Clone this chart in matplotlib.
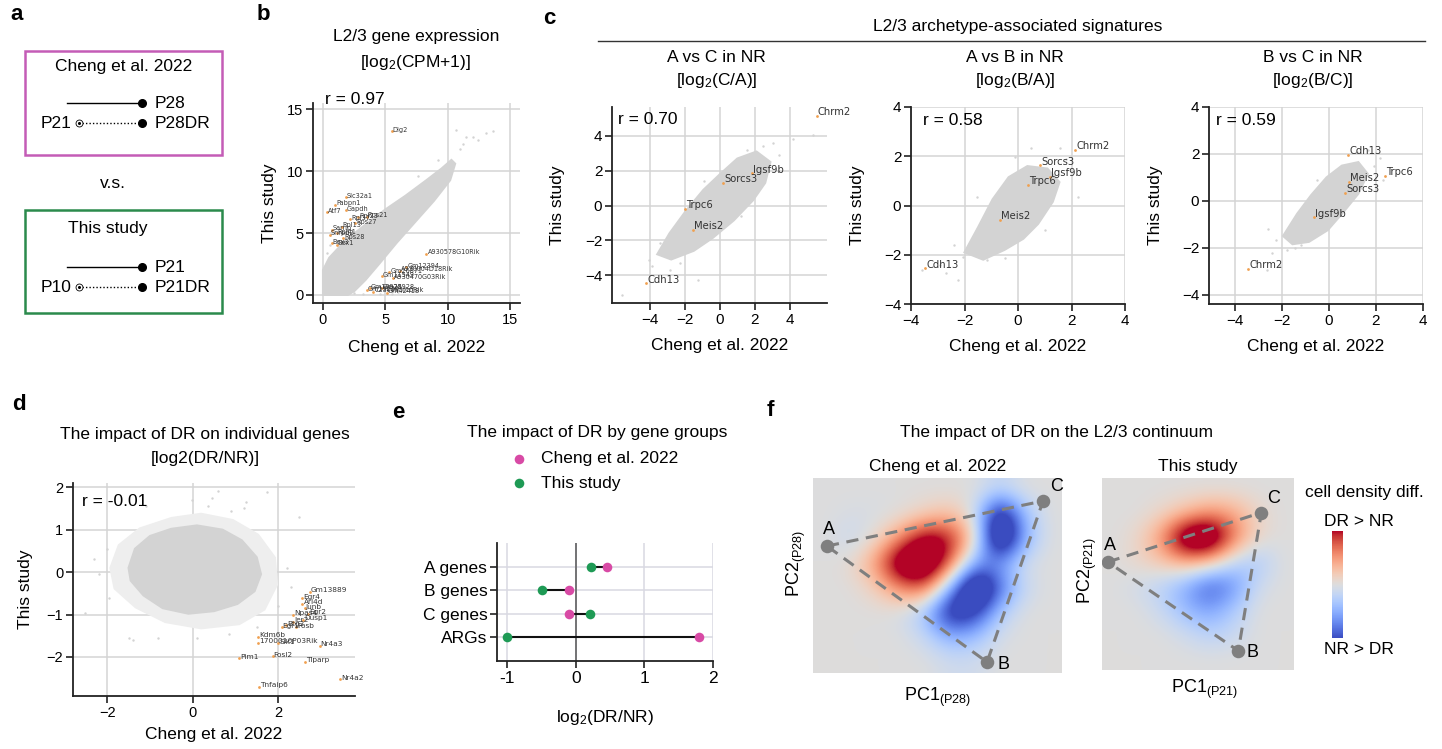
import numpy as np
import matplotlib.pyplot as plt
from matplotlib.patches import Rectangle

plt.rcParams['font.family'] = ['Liberation Sans', 'DejaVu Sans']
plt.rcParams['mathtext.default'] = 'regular'

W, H = 1442, 749

# ---------------- data ----------------
# panel b: L2/3 gene expression, log2(CPM+1)
b_cloud_x = [0.0, 0.0, 0.5, 1.8, 3.3, 5.0, 6.6, 8.3, 9.5, 10.3, 10.6, 10.2, 8.9, 7.4, 5.9, 4.5, 3.4, 2.5, 2.0]
b_cloud_y = [0.0, 2.0, 3.0, 4.4, 5.6, 6.9, 8.0, 9.27, 10.2, 10.9, 10.6, 9.27, 7.6, 5.9, 4.2, 2.5, 1.2, 0.3, 0.0]
b_out_x = [11.5, 12.05, 10.7, 11.25, 12.46, 13.1, 13.66, 2.5, 3.2, 4.6, 5.5, 6.0, 0.3, 0.6, 7.6, 9.2, 11.0]
b_out_y = [12.77, 12.77, 13.3, 12.2, 12.5, 13.05, 13.2, 0.15, 0.1, 0.05, 0.1, 0.2, 3.4, 4.0, 9.6, 10.9, 11.8]
b_genes = ['Dlg2', 'Slc32a1', 'Pabpn1', 'Atf7', 'Gapdh', 'Rpl37', 'Rps27', 'Rpl23', 'Rps21',
           'Rpl13', 'Sarnp', 'Snrpd2', 'Rpl41', 'Rps28', 'Bex3', 'Bex1',
           'A930578G10Rik', 'Gm12394', 'A930004D18Rik', 'Gm26871', 'Gm11549', 'A930470G03Rik',
           'Gm15220', 'C230035I16Rik', 'Gm42418', 'Gm28928', 'Gm10925']
b_gx = [5.5, 1.82, 0.96, 0.29, 1.84, 2.17, 2.57, 2.83, 3.5, 1.5, 0.7, 0.56, 1.1, 1.63, 0.7, 1.1,
        8.3, 6.66, 6.2, 5.3, 4.7, 5.64, 3.5, 4.04, 5.1, 4.7, 3.77]
b_gy = [13.2, 7.88, 7.26, 6.67, 6.85, 6.1, 5.78, 6.26, 6.3, 5.5, 5.25, 4.84, 4.97, 4.57, 4.17, 4.03,
        3.3, 2.23, 1.97, 1.83, 1.49, 1.34, 0.39, 0.26, 0.18, 0.53, 0.53]

# panel c: archetype-associated signatures
c_titles = ['A vs C in NR\n[log$_2$(C/A)]', 'A vs B in NR\n[log$_2$(B/A)]', 'B vs C in NR\n[log$_2$(B/C)]']
c_r = ['r = 0.70', 'r = 0.58', 'r = 0.59']
c_cloud_x = [
    [-3.6, -2.9, -1.95, -0.95, 0.0, 1.0, 2.1, 2.9, 2.6, 1.9, 0.8, -0.4, -1.5, -2.8],
    [-2.0, -1.5, -0.95, -0.35, 0.35, 1.1, 1.55, 1.3, 0.75, 0.2, -0.5, -1.3],
    [-1.95, -1.35, -0.75, -0.1, 0.55, 1.25, 1.65, 1.25, 0.6, -0.05, -0.85, -1.55],
]
c_cloud_y = [
    [-2.8, -1.6, -0.3, 0.9, 1.8, 2.7, 3.1, 2.5, 1.3, 0.3, -0.85, -1.85, -2.6, -3.1],
    [-1.9, -0.9, 0.25, 1.15, 1.6, 1.5, 0.95, 0.15, -0.75, -1.35, -1.8, -2.2],
    [-1.5, -0.55, 0.25, 1.0, 1.5, 1.65, 1.15, 0.3, -0.5, -1.25, -1.75, -1.85],
]
c_out_x = [
    [-5.65, -4.06, -3.45, -2.87, -1.24, 4.21, 5.36, 3.05, 1.53, -3.9, -2.3, 3.4, -3.2, 2.5, -0.9, 1.2],
    [-3.6, -2.69, -2.24, -2.05, -1.17, -0.92, -0.5, 2.26, 1.57, 0.5, -1.55, -2.9, -2.4, 1.8, -0.1, 1.0],
    [-2.65, -2.44, -2.23, -1.8, -1.45, 2.17, 2.31, -2.1, 1.67, -3.1, -1.2, 1.9, -2.6, 1.2, -0.5, 2.0],
]
c_out_y = [
    [-5.14, -3.13, -2.17, -3.72, -4.25, 3.8, 4.08, 3.57, 3.19, -3.5, -3.3, 2.9, -2.6, 3.4, 1.4, -0.6],
    [-2.62, -2.76, -3.03, -2.08, -2.2, -1.26, -2.15, 0.36, 2.32, 2.32, 0.36, -2.4, -1.6, 1.9, 1.95, -1.0],
    [-2.94, -2.23, -1.66, -2.09, -2.02, 1.81, 0.89, -2.8, 2.17, -2.6, -1.9, 1.5, -1.2, 2.1, 0.9, 0.4],
]
c_genes = [['Chrm2', 'Igsf9b', 'Sorcs3', 'Trpc6', 'Meis2', 'Cdh13'],
           ['Chrm2', 'Sorcs3', 'Igsf9b', 'Trpc6', 'Meis2', 'Cdh13'],
           ['Cdh13', 'Trpc6', 'Meis2', 'Sorcs3', 'Igsf9b', 'Chrm2']]
c_gx = [[5.56, 1.82, 0.19, -2.0, -1.53, -4.25],
        [2.13, 0.82, 1.2, 0.39, -0.67, -3.48],
        [0.82, 2.38, 0.86, 0.68, -0.63, -3.43]]
c_gy = [[5.14, 1.85, 1.3, -0.2, -1.4, -4.47],
        [2.26, 1.64, 1.17, 0.83, -0.59, -2.55],
        [1.96, 1.07, 0.82, 0.33, -0.71, -2.91]]

# panel d: impact of DR on individual genes
d_cloud_x = [-1.5, -1.35, -1.0, -0.5, 0.1, 0.7, 1.15, 1.5, 1.6, 1.45, 1.05, 0.5, -0.1, -0.7, -1.15, -1.45]
d_cloud_y = [0.1, 0.55, 0.85, 1.02, 1.1, 1.0, 0.75, 0.35, -0.05, -0.45, -0.75, -0.92, -0.98, -0.85, -0.55, -0.2]
d_halo_x = [-1.95, -1.75, -1.25, -0.5, 0.2, 0.95, 1.55, 1.95, 2.0, 1.7, 1.1, 0.2, -0.65, -1.35, -1.85]
d_halo_y = [0.1, 0.65, 1.05, 1.3, 1.4, 1.25, 0.9, 0.35, -0.3, -0.9, -1.25, -1.35, -1.2, -0.85, -0.4]
d_out_x = [-2.53, -2.2, -1.5, -1.4, -1.1, 0.35, 0.45, 0.6, 1.25, 1.73, 2.5, 1.2, 0.9, 1.5, 1.9,
           -0.8, -2.0, 2.2, 2.0, 0.1, -0.02, -1.95, -2.3, 0.85, 2.3]
d_out_y = [-0.97, -0.05, -1.55, -1.6, 1.55, 1.55, 1.75, 1.9, 1.65, 1.89, 1.3, 1.5, 1.45, -1.3, -1.5,
           -1.55, 0.55, 0.1, -0.8, -1.55, 1.69, -0.6, 0.3, -1.45, -0.35]
d_genes = ['Gm13889', 'Egr4', 'Arl4d', 'Junb', 'Npas4', 'Egr2', 'Dusp1', 'Ier2', 'Btg2', 'Egr1', 'Fosb',
           'Kdm6b', '1700016P03Rik', 'Sik1', 'Nr4a3', 'Pim1', 'Fosl2', 'Tiparp', 'Nr4a2', 'Tnfaip6']
d_gx = [2.74, 2.57, 2.57, 2.62, 2.35, 2.70, 2.58, 2.35, 2.19, 2.08, 2.43,
        1.53, 1.53, 2.0, 2.97, 1.08, 1.87, 2.62, 3.46, 1.55]
d_gy = [-0.46, -0.62, -0.74, -0.85, -1.0, -0.98, -1.13, -1.17, -1.25, -1.3, -1.3,
        -1.52, -1.66, -1.68, -1.74, -2.03, -1.98, -2.12, -2.53, -2.70]

# panel e: impact of DR by gene groups
e_groups = ['A genes', 'B genes', 'C genes', 'ARGs']
e_cheng = [0.45, -0.1, -0.1, 1.8]
e_this = [0.22, -0.5, 0.2, -1.0]
e_xticks = [-1, 0, 1, 2]
e_xticklabels = ['-1', '0', '1', '2']

# panel f: cell density difference (DR - NR), coarse grid, rows bottom -> top
f_cheng = [
    [0, 0, 0, 0, 0, -0.1, -0.1, 0, 0, 0],
    [0, 0, 0, 0, -0.15, -0.5, -0.4, -0.05, 0, 0],
    [0, 0, 0, -0.05, -0.4, -1.4, -1.2, -0.3, 0, 0],
    [0, 0, 0.15, 0.6, 0.8, -0.5, -1.9, -0.9, -0.15, 0],
    [0, 0.05, 0.5, 1.5, 1.7, 0.8, -0.6, -0.6, -0.05, 0],
    [0, -0.15, 0.05, 0.6, 1.3, 1.1, 0.2, -1.9, -0.5, 0],
    [0, -0.05, -0.05, 0, 0.15, 0.3, -0.05, -1.6, -0.4, 0],
    [0, 0, 0, 0, 0, 0, 0, -0.2, 0, 0],
]
f_this = [
    [0, 0, 0, 0, 0, 0, 0, 0],
    [0, 0, 0, -0.1, -0.25, -0.15, 0, 0],
    [0, 0, -0.15, -0.45, -0.6, -0.3, 0, 0],
    [0, -0.1, -0.25, -0.55, -1.0, -0.7, -0.1, 0],
    [0, 0.1, 0.25, 0.45, 0.3, -0.2, -0.35, 0],
    [0, 0.1, 0.55, 1.6, 1.7, 0.7, 0.1, 0],
    [0, 0, 0.1, 0.3, 0.55, 0.45, 0.1, 0],
    [0, 0, 0, 0, 0, 0, 0, 0],
]
# archetype vertices A, B, C in map coordinates (0..1)
f_cheng_abc = {'A': (0.056, 0.651), 'B': (0.699, 0.056), 'C': (0.924, 0.882)}
f_this_abc = {'A': (0.03, 0.5625), 'B': (0.71, 0.10), 'C': (0.83, 0.82)}

CLOUD = '#d3d3d3'
ORANGE = '#f0a050'
MAGENTA = '#d84aa5'
GREEN = '#1e9a55'


def frac(l, t, r, b):
    return [l / W, 1 - b / H, (r - l) / W, (b - t) / H]


def style(ax, size=10.5):
    for s in ['top', 'right']:
        ax.spines[s].set_visible(False)
    for s in ['left', 'bottom']:
        ax.spines[s].set_linewidth(1.3)
        ax.spines[s].set_color('#222222')
    ax.grid(True, color='#d4d4d4', lw=1.1)
    ax.set_axisbelow(True)
    ax.tick_params(length=5, width=1.2, labelsize=size, color='#222222', pad=2)


def scatter_panel(ax, cx, cy, ox, oy, names, gx, gy, gsize):
    ax.fill(cx, cy, color=CLOUD, ec=CLOUD, lw=1.5, zorder=2)
    ax.scatter(ox, oy, s=3, color=CLOUD, lw=0, zorder=2)
    ax.scatter(gx, gy, s=4, color=ORANGE, lw=0, zorder=3)
    for n, x, y in zip(names, gx, gy):
        ax.annotate(n, (x, y), xytext=(0.8, -1), textcoords='offset points', fontsize=gsize,
                    family='DejaVu Sans', color='#333333', ha='left', va='bottom',
                    annotation_clip=False, zorder=4)


fig = plt.figure(figsize=(W / 100, H / 100), dpi=100)

# overlay in pixel coordinates for schematic + free text
ov = fig.add_axes([0, 0, 1, 1])
ov.set_xlim(0, W)
ov.set_ylim(H, 0)
ov.axis('off')

for letter, x, y in [('a', 10, 14), ('b', 257, 14), ('c', 543, 18), ('d', 12, 405), ('e', 392, 412), ('f', 767, 410)]:
    ov.text(x, y, letter, fontsize=16, fontweight='bold', va='center', ha='left')

# ---------------- panel a ----------------
a_boxes = [
    dict(title='Cheng et al. 2022', color='#c45cb6', top=51, bot=155, tx=124, ty=67, y1=103, y2=123,
         start='P21', end1='P28', end2='P28DR'),
    dict(title='This study', color='#2b8a4c', top=210, bot=313, tx=108, ty=228, y1=267, y2=287,
         start='P10', end1='P21', end2='P21DR'),
]
for bx in a_boxes:
    ov.add_patch(Rectangle((25, bx['top']), 197, bx['bot'] - bx['top'], fill=False, ec=bx['color'], lw=1.8))
    ov.text(bx['tx'], bx['ty'], bx['title'], fontsize=12.5, ha='center', va='center')
    ov.plot([67, 142], [bx['y1'], bx['y1']], color='k', lw=1)
    ov.plot([82, 142], [bx['y2'], bx['y2']], color='k', lw=1, ls=(0, (1, 1.5)))
    ov.plot([142, 142], [bx['y1'], bx['y2']], 'o', color='k', ms=5.5, ls='none')
    ov.plot(79, bx['y2'], 'o', mfc='white', mec='k', ms=5, mew=0.6)
    ov.plot(79, bx['y2'], 'o', color='k', ms=1.2)
    ov.text(155, bx['y1'], bx['end1'], fontsize=12.5, va='center', ha='left')
    ov.text(155, bx['y2'], bx['end2'], fontsize=12.5, va='center', ha='left')
    ov.text(72, bx['y2'], bx['start'], fontsize=12.5, va='center', ha='right')
ov.text(113, 184, 'v.s.', fontsize=12.5, ha='center', va='center')

# ---------------- panel b ----------------
axb = fig.add_axes(frac(313, 103, 520, 303))
style(axb, 10.5)
scatter_panel(axb, b_cloud_x, b_cloud_y, b_out_x, b_out_y, b_genes, b_gx, b_gy, 4.7)
axb.set_xlim(-0.8, 15.8)
axb.set_ylim(-0.65, 15.5)
axb.set_xticks([0, 5, 10, 15])
axb.set_yticks([0, 5, 10, 15])
axb.text(0.058, 1.015, 'r = 0.97', transform=axb.transAxes, fontsize=12.5, va='center', ha='left')
axb.set_xlabel('Cheng et al. 2022', fontsize=12.5)
axb.set_ylabel('This study', fontsize=12.5)
axb.xaxis.set_label_coords(0.5, -0.185)
axb.yaxis.set_label_coords(-0.174, 0.5)
ov.text(416, 36, 'L2/3 gene expression', fontsize=12.5, ha='center', va='center')
ov.text(416, 62, '[log$_2$(CPM+1)]', fontsize=12.5, ha='center', va='center')

# ---------------- panel c ----------------
ov.text(1018, 27, 'L2/3 archetype-associated signatures', fontsize=12.5, ha='center', va='center')
ov.plot([598, 1425], [41, 41], color='#333333', lw=1)
c_boxes = [(612, 107, 827, 303), (911, 107, 1125, 304), (1209, 107, 1423, 304)]
c_xlims = [(-6.2, 6.15), (-4, 4), (-5.1, 4)]
c_ylims = [(-5.6, 5.66), (-4, 4), (-4.4, 4)]
c_rpos = [(0.028, 0.934), (0.056, 0.934), (0.033, 0.934)]
c_ylab = [-0.219, -0.215, -0.215]
for i in range(3):
    ax = fig.add_axes(frac(*c_boxes[i]))
    style(ax, 11)
    scatter_panel(ax, c_cloud_x[i], c_cloud_y[i], c_out_x[i], c_out_y[i],
                  c_genes[i], c_gx[i], c_gy[i], 7.2)
    ax.set_xlim(*c_xlims[i])
    ax.set_ylim(*c_ylims[i])
    ax.set_xticks([-4, -2, 0, 2, 4])
    ax.set_yticks([-4, -2, 0, 2, 4])
    ax.text(*c_rpos[i], c_r[i], transform=ax.transAxes, fontsize=12.5, va='center', ha='left')
    ax.set_xlabel('Cheng et al. 2022', fontsize=12.5)
    ax.set_ylabel('This study', fontsize=12.5)
    ax.xaxis.set_label_coords(0.5, -0.18)
    ax.yaxis.set_label_coords(c_ylab[i], 0.5)
    cx = (c_boxes[i][0] + c_boxes[i][2]) / 2
    t1, t2 = c_titles[i].split('\n')
    ov.text(cx - 3, 57, t1, fontsize=12.5, ha='center', va='center')
    ov.text(cx - 3, 81, t2, fontsize=12.5, ha='center', va='center')

# ---------------- panel d ----------------
axd = fig.add_axes(frac(73, 483, 355, 696))
style(axd, 10.5)
axd.fill(d_halo_x, d_halo_y, color='#eeeeee', lw=0, zorder=2)
scatter_panel(axd, d_cloud_x, d_cloud_y, d_out_x, d_out_y, d_genes, d_gx, d_gy, 5.3)
axd.set_xlim(-2.8, 3.8)
axd.set_ylim(-2.92, 2.1)
axd.set_xticks([-2, 0, 2])
axd.set_yticks([-2, -1, 0, 1, 2])
axd.text(0.032, 0.915, 'r = -0.01', transform=axd.transAxes, fontsize=12.5, va='center', ha='left')
axd.set_xlabel('Cheng et al. 2022', fontsize=12.5)
axd.set_ylabel('This study', fontsize=12.5)
axd.xaxis.set_label_coords(0.5, -0.146)
axd.yaxis.set_label_coords(-0.142, 0.5)
ov.text(205, 435, 'The impact of DR on individual genes', fontsize=12.5, ha='center', va='center')
ov.text(205, 458, '[log2(DR/NR)]', fontsize=12.5, ha='center', va='center')

# ---------------- panel e ----------------
axe = fig.add_axes(frac(497, 543, 713, 661))
style(axe, 12)
axe.grid(True, color='#d8d8e2', lw=1.1)
ypos = np.arange(len(e_groups))
axe.axvline(0, color='#555555', lw=1.1, zorder=1)
axe.hlines(ypos, np.minimum(e_cheng, e_this), np.maximum(e_cheng, e_this), color='#111111', lw=1.5, zorder=2)
axe.scatter(e_cheng, ypos, s=48, color=MAGENTA, lw=0, zorder=3, label='Cheng et al. 2022')
axe.scatter(e_this, ypos, s=48, color=GREEN, lw=0, zorder=3, label='This study')
axe.set_yticks(ypos, labels=e_groups)
axe.set_xticks(e_xticks, labels=e_xticklabels)
axe.set_xlim(-1.15, 2.0)
axe.set_ylim(4.0, -1.0)
axe.tick_params(axis='both', labelsize=12.5)
axe.set_xlabel('log$_2$(DR/NR)', fontsize=12.5)
axe.xaxis.set_label_coords(0.5, -0.40)
axe.legend(loc='upper left', bbox_to_anchor=(0.02, 1.78), frameon=False, fontsize=12.5,
           handletextpad=0.3, labelspacing=0.55, borderaxespad=0, borderpad=0)
ov.text(597, 433, 'The impact of DR by gene groups', fontsize=12.5, ha='center', va='center')

# ---------------- panel f ----------------
ov.text(1057, 433, 'The impact of DR on the L2/3 continuum', fontsize=12.5, ha='center', va='center')
f_maps = [(f_cheng, f_cheng_abc, (813, 478, 1062, 673), 'Cheng et al. 2022', 'P28',
           (0.5, -0.067), (-0.02, 0.56)),
          (f_this, f_this_abc, (1102, 478, 1294, 670), 'This study', 'P21',
           (0.536, -0.042), (-0.016, 0.52))]
im = None
for grid, abc, box, ttl, age, xl, yl in f_maps:
    ax = fig.add_axes(frac(*box))
    im = ax.imshow(np.array(grid), extent=[0, 1, 0, 1], origin='lower', cmap='coolwarm',
                   vmin=-1, vmax=1, interpolation='bicubic', aspect='auto')
    tri = [abc['A'], abc['C'], abc['B'], abc['A']]
    ax.plot([p[0] for p in tri], [p[1] for p in tri], color='#7f7f7f', lw=2.2, ls=(0, (4, 2.5)), zorder=3)
    ax.scatter([abc[k][0] for k in 'ABC'], [abc[k][1] for k in 'ABC'], s=95, color='#7f7f7f', lw=0, zorder=4)
    ax.text(abc['A'][0] + 0.01, abc['A'][1] + 0.04, 'A', fontsize=13, ha='center', va='bottom')
    ax.text(abc['B'][0] + 0.04, abc['B'][1] - 0.01, 'B', fontsize=13, ha='left', va='center')
    ax.text(abc['C'][0] + 0.03, abc['C'][1] + 0.03, 'C', fontsize=13, ha='left', va='bottom')
    ax.set_xlim(0, 1)
    ax.set_ylim(0, 1)
    ax.set_xticks([])
    ax.set_yticks([])
    for s in ax.spines.values():
        s.set_visible(False)
    ax.set_title(ttl, fontsize=12.5, pad=5)
    ax.set_xlabel('PC1$_{(%s)}$' % age, fontsize=13)
    ax.set_ylabel('PC2$_{(%s)}$' % age, fontsize=13)
    ax.xaxis.set_label_coords(*xl)
    ax.yaxis.set_label_coords(*yl)

cax = fig.add_axes(frac(1332, 531, 1343, 638))
cb = fig.colorbar(im, cax=cax)
cb.set_ticks([])
cb.outline.set_visible(False)
ov.text(1305, 492, 'cell density diff.', fontsize=12.5, ha='left', va='center')
ov.text(1359, 522, 'DR > NR', fontsize=12.5, ha='center', va='center')
ov.text(1359, 650, 'NR > DR', fontsize=12.5, ha='center', va='center')

fig.savefig('out.png', dpi=100)
